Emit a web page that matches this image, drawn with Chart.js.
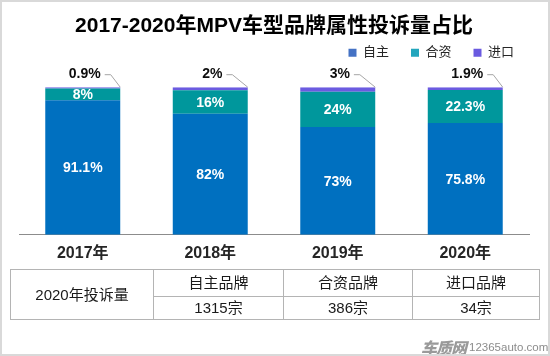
<!DOCTYPE html>
<html>
<head>
<meta charset="utf-8">
<script src="https://cdn.jsdelivr.net/npm/chart.js@4.4.0/dist/chart.umd.min.js"></script>
<style>
  html, body { margin: 0; padding: 0; background: #fff; }
  #wrap { position: relative; width: 550px; height: 356px; overflow: hidden; }
  #c { position: absolute; left: 0; top: 0; }
  #frame { position: absolute; left: 0; top: 0; width: 550px; height: 356px; box-sizing: border-box; border: 2px solid #d9d9d9; pointer-events: none; }
  #tbl { position: absolute; left: 10px; top: 269px; width: 529px; height: 51px; border-collapse: collapse; font-family: "Liberation Sans", "Noto Sans CJK SC", sans-serif; font-size: 15px; color: #1a1a1a; table-layout: fixed; }
  #tbl td { border: 1px solid #b4b4b4; text-align: center; padding: 0; line-height: 18px; }
  #wm { position: absolute; left: 421px; top: 332px; font-family: "Noto Sans CJK SC", sans-serif; color: #9a9a9a; white-space: nowrap; }
  #wm .logo { font-size: 16px; font-weight: 900; font-style: italic; letter-spacing: -1px; vertical-align: middle; }
  #wm .url { font-family: "Liberation Sans", sans-serif; font-size: 11.5px; vertical-align: middle; margin-left: 3px; color: #8c8c8c; }
</style>
</head>
<body>
<div id="wrap">
  <canvas id="c" width="550" height="356"></canvas>
  <table id="tbl">
    <colgroup><col style="width:143px"><col style="width:130px"><col style="width:129px"><col style="width:127px"></colgroup>
    <tr style="height:27px"><td rowspan="2" id="t0"></td><td id="h0"></td><td id="h1"></td><td id="h2"></td></tr>
    <tr style="height:23px"><td id="v0"></td><td id="v1"></td><td id="v2"></td></tr>
  </table>
  <div id="wm"><span class="logo">车质网</span><span class="url">12365auto.com</span></div>
  <div id="frame"></div>
</div>
<script>
// ---- data ----
const chartTitle = "2017-2020年MPV车型品牌属性投诉量占比";
const years = ["2017年", "2018年", "2019年", "2020年"];
const seriesNames = ["自主", "合资", "进口"];
const domestic = [91.1, 82, 73, 75.8];
const jointVenture = [8, 16, 24, 22.3];
const imported = [0.9, 2, 3, 1.9];
const tableTitle = "2020年投诉量";
const tableHeads = ["自主品牌", "合资品牌", "进口品牌"];
const tableCounts = ["1315宗", "386宗", "34宗"];

// ---- styles ----
const barColors = ["#0070C0", "#00979C", "#6B5BE0"];
const legendColors = ["#4472C4", "#23A6BD", "#6A5AE0"];
const FONT = '"Liberation Sans", "Noto Sans CJK SC", sans-serif';

document.getElementById("t0").textContent = tableTitle;
tableHeads.forEach((h, i) => document.getElementById("h" + i).textContent = h);
tableCounts.forEach((v, i) => document.getElementById("v" + i).textContent = v);

const labelPlugin = {
  id: "barLabels",
  afterDatasetsDraw(chart) {
    const ctx = chart.ctx;
    ctx.save();
    ctx.textAlign = "center";
    ctx.textBaseline = "middle";
    [0, 1].forEach(di => {
      const meta = chart.getDatasetMeta(di);
      meta.data.forEach((bar, j) => {
        const v = chart.data.datasets[di].data[j];
        const p = bar.getProps(["x", "y", "base"], true);
        ctx.font = "bold 14px " + FONT;
        ctx.fillStyle = "#ffffff";
        ctx.fillText(v + "%", p.x, (p.y + p.base) / 2 + 1);
      });
    });
    const meta = chart.getDatasetMeta(2);
    meta.data.forEach((bar, j) => {
      const v = chart.data.datasets[2].data[j];
      const p = bar.getProps(["x", "y", "width"], true);
      const txt = v + "%";
      ctx.font = "bold 14px " + FONT;
      const w = ctx.measureText(txt).width;
      const tx = p.x + 2, ty = p.y - 13;
      ctx.fillStyle = "#0d0d0d";
      ctx.fillText(txt, tx, ty);
      ctx.strokeStyle = "#a6a6a6";
      ctx.lineWidth = 1;
      ctx.beginPath();
      const sx = tx + w / 2 + 4;
      ctx.moveTo(sx, ty + 0.5);
      ctx.lineTo(sx + 6, ty + 0.5);
      ctx.lineTo(p.x + p.width / 2, p.y);
      ctx.stroke();
    });
    ctx.restore();
  }
};

const legendSpacer = {
  id: "legendSpacer",
  beforeInit(chart) {
    const origFit = chart.legend.fit;
    chart.legend.fit = function () {
      origFit.bind(chart.legend)();
      this.height += 18;
    };
  },
  afterLayout(chart) {
    chart.legend.left += 7;
    chart.legend.right += 7;
  }
};

new Chart(document.getElementById("c"), {
  type: "bar",
  data: {
    labels: years,
    datasets: [
      { label: seriesNames[0], data: domestic, backgroundColor: barColors[0] },
      { label: seriesNames[1], data: jointVenture, backgroundColor: barColors[1] },
      { label: seriesNames[2], data: imported, backgroundColor: barColors[2] }
    ]
  },
  options: {
    responsive: false,
    animation: false,
    layout: { padding: { left: 19, right: 21, top: 4, bottom: 92 } },
    datasets: { bar: { categoryPercentage: 1, barPercentage: 0.588, borderWidth: 0 } },
    plugins: {
      title: {
        display: true, text: chartTitle, color: "#000",
        font: { size: 21, weight: "bold", family: FONT },
        padding: { top: 10, bottom: -15 }
      },
      legend: {
        display: true, position: "top", align: "end",
        labels: {
          boxWidth: 8, boxHeight: 8, padding: 22, color: "#262626",
          font: { size: 13, family: FONT },
          generateLabels(chart) {
            const items = Chart.defaults.plugins.legend.labels.generateLabels(chart);
            items.forEach((it, i) => { it.fillStyle = legendColors[i]; it.strokeStyle = legendColors[i]; it.lineWidth = 0; });
            return items;
          }
        }
      },
      tooltip: { enabled: false }
    },
    scales: {
      x: {
        stacked: true,
        grid: { display: false },
        border: { display: true, color: "#8c8c8c", width: 1 },
        ticks: { color: "#262626", padding: 1, font: { size: 16, weight: "bold", family: FONT } }
      },
      y: { stacked: true, display: false, min: 0, max: 100 }
    }
  },
  plugins: [labelPlugin, legendSpacer]
});
</script>
</body>
</html>
